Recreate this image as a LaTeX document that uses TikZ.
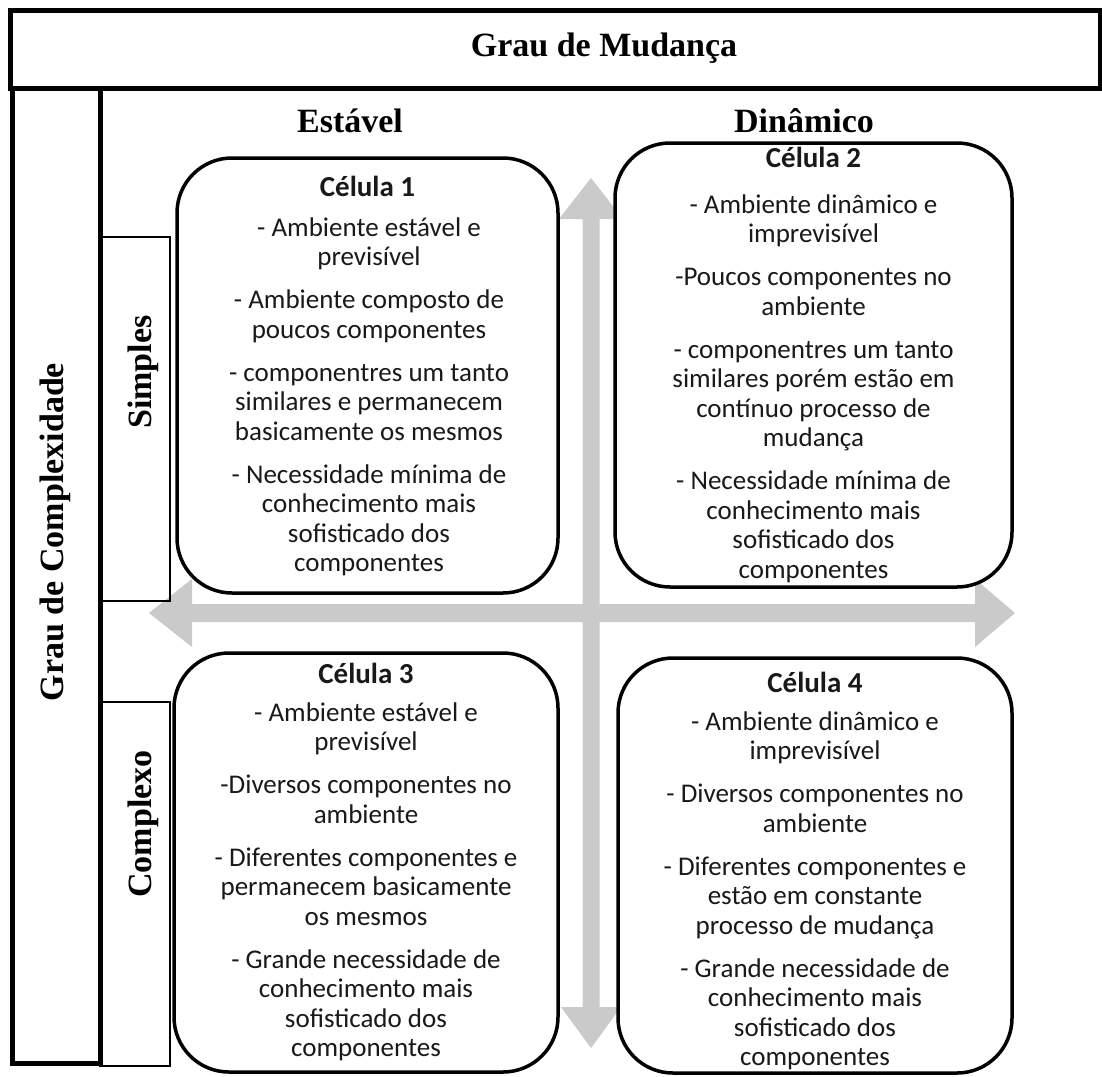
\documentclass[tikz,border=0pt]{standalone}
\usepackage{fontspec}
\setmainfont{Liberation Serif}
\newfontfamily\cellfamily{Carlito}
\definecolor{axisgray}{RGB}{202,202,202}
\definecolor{celltext}{RGB}{25,25,25}
\newcommand\cellfont{\cellfamily\fontsize{27}{29.5}\selectfont\lineskiplimit=-50pt\relax\lineskip=0pt\relax}
\newcommand\topline{\rule{0pt}{24pt}}
\tikzset{
  frame/.style={line width=5pt, line cap=rect},
  thinbox/.style={draw, line width=1.5pt},
  cellbox/.style={draw, line width=3.5pt, rounded corners=55pt, fill=white, inner sep=0pt},
  heading/.style={font=\bfseries\fontsize{34}{40}\selectfont, inner sep=0pt, anchor=base},
  celltitle/.style={font=\cellfamily\bfseries\fontsize{29}{32}\selectfont, text=celltext, inner sep=0pt, anchor=base},
  cellbody/.style={font=\cellfont, text=celltext, align=center, inner sep=0pt, anchor=north},
  axis/.style={fill=axisgray, draw=none}
}
\begin{document}
\begin{tikzpicture}[x=1pt,y=-1pt]
\useasboundingbox (0,0) rectangle (1102,1076);
\fill[white] (0,0) rectangle (1102,1076);

% gray axes behind the cells
\fill[axis] (149,613) -- (192,579) -- (192,604) -- (975,604) -- (975,579) -- (1015,613)
  -- (975,647) -- (975,622) -- (192,622) -- (192,647) -- cycle;
\fill[axis] (591,178) -- (623,219) -- (599.5,219) -- (599.5,1007) -- (621,1007) -- (591,1048)
  -- (561,1007) -- (582.5,1007) -- (582.5,219) -- (559,219) -- cycle;

% outer frame
\draw[frame] (10,10) rectangle (1100,88);
\draw[frame] (12,88) -- (12,1063) -- (100,1063) -- (100,88);

% row label boxes
\node[thinbox, minimum width=70pt, minimum height=364pt, inner sep=0pt] (simplesbox) at (135,419) {};
\node[thinbox, minimum width=70pt, minimum height=364pt, inner sep=0pt] (complexobox) at (135,884) {};

% headings
\node[heading] (mudanca) at (604,56) {Grau de Mudança};
\node[heading] (estavel) at (350,132) {Estável};
\node[heading] (dinamico) at (804,132) {Dinâmico};
\node[heading, rotate=90] (complex) at (63,532) {Grau de Complexidade};
\node[heading, rotate=90] (simples) at (151,372) {Simples};
\node[heading, rotate=90] (complexo) at (151,824) {Complexo};

% cells
\node[cellbox, minimum width=381pt, minimum height=435pt] (c1) at (367.5,375.5) {};
\node[cellbox, minimum width=397pt, minimum height=444pt] (c2) at (813.5,365) {};
\node[cellbox, minimum width=384pt, minimum height=419pt] (c3) at (366,862.5) {};
\node[cellbox, minimum width=394pt, minimum height=415pt] (c4) at (815,865.5) {};

\node[celltitle] (t1) at (367.5,196) {Célula 1};
\node[cellbody] (b1) at (369,212) {\topline- Ambiente estável e\\previsível\\[13.5pt]
  - Ambiente composto de\\poucos componentes\\[13.5pt]
  - componentres um tanto\\similares e permanecem\\basicamente os mesmos\\[13.5pt]
  - Necessidade mínima de\\conhecimento mais\\sofisticado dos\\componentes};

\node[celltitle] (t2) at (813.5,167) {Célula 2};
\node[cellbody] (b2) at (813.5,189) {\topline- Ambiente dinâmico e\\imprevisível\\[13.5pt]
  -Poucos componentes no\\ambiente\\[13.5pt]
  - componentres um tanto\\similares porém estão em\\contínuo processo de\\mudança\\[13.5pt]
  - Necessidade mínima de\\conhecimento mais\\sofisticado dos\\componentes};

\node[celltitle] (t3) at (366,683) {Célula 3};
\node[cellbody] (b3) at (366,697) {\topline- Ambiente estável e\\previsível\\[13.5pt]
  -Diversos componentes no\\ambiente\\[13.5pt]
  - Diferentes componentes e\\permanecem basicamente\\os mesmos\\[13.5pt]
  - Grande necessidade de\\conhecimento mais\\sofisticado dos\\componentes};

\node[celltitle] (t4) at (815,692) {Célula 4};
\node[cellbody] (b4) at (815,706) {\topline- Ambiente dinâmico e\\imprevisível\\[13.5pt]
  - Diversos componentes no\\ambiente\\[13.5pt]
  - Diferentes componentes e\\estão em constante\\processo de mudança\\[13.5pt]
  - Grande necessidade de\\conhecimento mais\\sofisticado dos\\componentes};
\end{tikzpicture}
\end{document}
